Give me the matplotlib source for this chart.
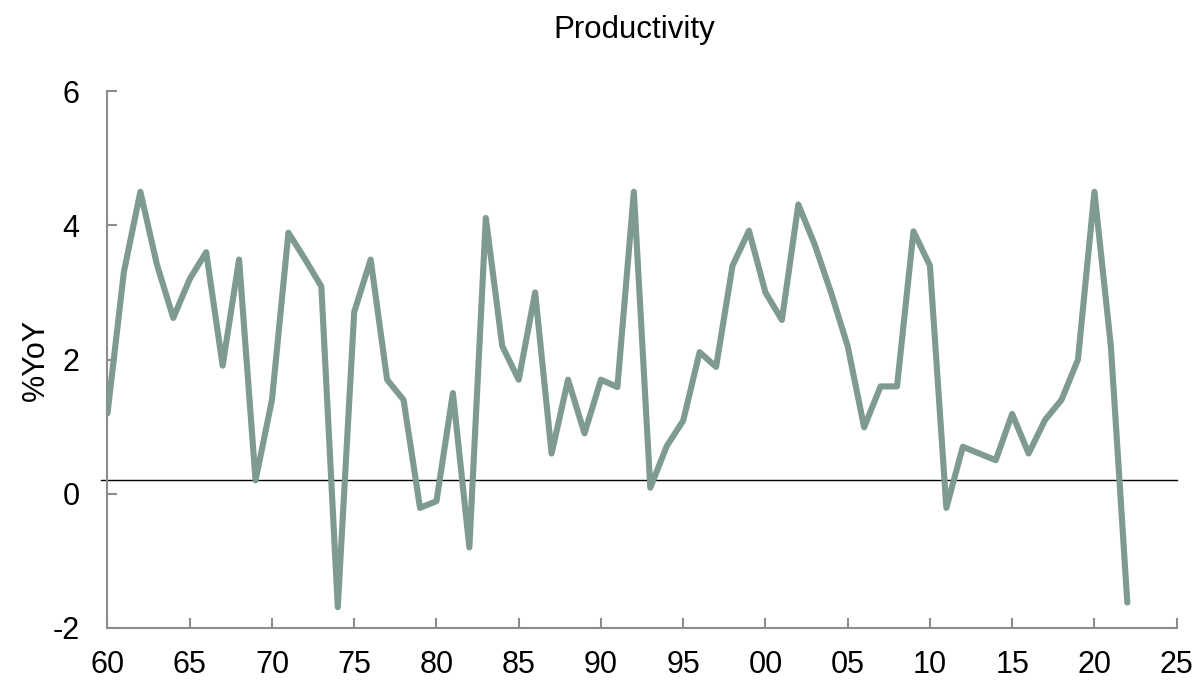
import matplotlib.pyplot as plt

plt.rcParams['font.family'] = ['Liberation Sans', 'DejaVu Sans']
plt.rcParams['axes.unicode_minus'] = False

# annual productivity growth, % year over year
anyos = list(range(1960, 2023))
productividad = [
    1.20, 3.31, 4.50, 3.42, 2.62, 3.20, 3.60, 1.91, 3.49, 0.20,
    1.40, 3.89, 3.50, 3.09, -1.69, 2.71, 3.49, 1.70, 1.40, -0.21,
    -0.11, 1.50, -0.80, 4.11, 2.20, 1.70, 3.00, 0.60, 1.70, 0.90,
    1.70, 1.59, 4.50, 0.09, 0.71, 1.09, 2.11, 1.89, 3.40, 3.92,
    3.00, 2.59, 4.31, 3.71, 2.99, 2.20, 0.99, 1.60, 1.60, 3.91,
    3.40, -0.21, 0.70, 0.60, 0.50, 1.19, 0.60, 1.10, 1.40, 2.00,
    4.50, 2.20, -1.62,
]
nivel_ref = 0.2

ticks_x = list(range(1960, 2026, 5))
etiquetas_x = [str(a)[2:] for a in ticks_x]
ticks_y = [-2, 0, 2, 4, 6]

color_linea = '#7f9b90'
gris = '#8c8c8c'

fig = plt.figure(figsize=(11.97, 6.8), dpi=100)
ax = fig.add_axes([0.0898, 0.0765, 0.8932, 0.7895])

ax.plot(anyos, productividad, color=color_linea, linewidth=4.4,
        solid_joinstyle='round', solid_capstyle='round', zorder=3)
ax.axhline(nivel_ref, xmin=-0.006, xmax=1.0, color='black',
           linewidth=1.0, clip_on=False, zorder=2)

ax.set_xlim(1960, 2025)
ax.set_ylim(-2, 6)
ax.set_xticks(ticks_x)
ax.set_xticklabels(etiquetas_x)
ax.set_yticks(ticks_y)

for lado in ['top', 'right']:
    ax.spines[lado].set_visible(False)
for lado in ['left', 'bottom']:
    ax.spines[lado].set_color(gris)
    ax.spines[lado].set_linewidth(1.5)

ax.tick_params(axis='both', direction='in', length=7, width=1.5,
               color=gris, labelsize=22, labelcolor='black')
ax.tick_params(axis='y', pad=20)
ax.tick_params(axis='x', pad=16)

ax.set_ylabel('%YoY', fontsize=22, labelpad=1.5)
fig.text(634 / 1197, 1 - 38 / 680, 'Productivity', fontsize=22.5,
         ha='center', va='baseline')

fig.savefig('out.png', dpi=100)
